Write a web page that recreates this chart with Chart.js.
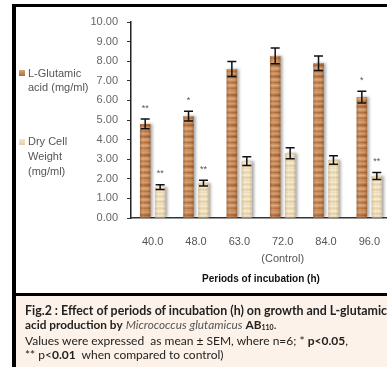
<!DOCTYPE html>
<html><head><meta charset="utf-8">
<script src="https://cdn.jsdelivr.net/npm/chart.js"></script>
<style>
html,body{margin:0;padding:0;background:#fff;width:387px;height:367px;overflow:hidden;}
#wrap{position:relative;width:387px;height:367px;overflow:hidden;}
#c{position:absolute;left:0;top:0;}
.bTop{position:absolute;left:12px;top:4px;width:400px;height:3px;background:#000;}
.bLeft{position:absolute;left:12px;top:4px;width:4px;height:370px;background:#000;}
.bMid{position:absolute;left:12px;top:293px;width:400px;height:3px;background:#000;}
.cap{position:absolute;left:16px;top:296px;width:400px;height:80px;background:#fdf2e9;}
.capText{position:absolute;left:25px;top:304px;font-family:Lato,sans-serif;font-size:11.8px;line-height:14px;color:#222;white-space:nowrap;}
.capText .l1{font-size:12.4px;font-weight:bold;}
.capText .l3{font-size:12px;}
.capText i{color:#555;}
.capText sub{font-size:7px;vertical-align:-1px;}
.leg{position:absolute;left:28px;font-family:'Liberation Sans',Arial,sans-serif;font-size:11px;color:#555;white-space:nowrap;}
.sw{position:absolute;left:19px;width:6px;height:6px;}
</style>
</head><body>
<div id="wrap">
<canvas id="c" width="400" height="294"></canvas>
<div class="bTop"></div><div class="bLeft"></div>
<div class="cap"></div><div class="bMid"></div>
<div class="sw" style="top:70px;background:linear-gradient(#d9a272,#b06c3c);"></div>
<div class="leg" id="leg1" style="top:66px;line-height:14px;"></div>
<div class="sw" style="top:139px;background:linear-gradient(#f4e8cc,#e2cfa2);"></div>
<div class="leg" id="leg2" style="top:134px;line-height:15px;"></div>
<div class="capText">
<span class="l1">Fig.2 : Effect of periods of incubation (h) on growth and L-glutamic</span><br>
<b>acid production by</b> <i>Micrococcus glutamicus</i> <b>AB<sub>110</sub></b>.<br>
<span class="l3">Values were expressed&nbsp; as mean ± SEM, where n=6; * <b>p&lt;0.05</b>,</span><br>
<span class="l3">** p&lt;<b>0.01</b>&nbsp; when compared to control)</span>
</div>
</div>
<script>
const categories = [['40.0'], ['48.0'], ['63.0'], ['72.0', '(Control)'], ['84.0'], ['96.0']];
const gluValues = [4.8, 5.2, 7.6, 8.27, 7.9, 6.17];
const gluErrors = [0.25, 0.25, 0.38, 0.4, 0.37, 0.3];
const dcwValues = [1.58, 1.78, 2.9, 3.3, 2.96, 2.14];
const dcwErrors = [0.12, 0.15, 0.22, 0.28, 0.22, 0.18];
const gluSig = ['**', '*', '', '', '', '*'];
const dcwSig = ['**', '**', '', '', '', '**'];
const gluLegend = ['L-Glutamic', 'acid (mg/ml)'];
const dcwLegend = ['Dry Cell', 'Weight', '(mg/ml)'];
const xTitle = 'Periods of incubation (h)';
const yMin = 0, yMax = 10, yStep = 1;

document.getElementById('leg1').innerHTML = gluLegend.join('<br>');
document.getElementById('leg2').innerHTML = dcwLegend.join('<br>');

const canvas = document.getElementById('c');
const mainCtx = canvas.getContext('2d');
function makePattern(rows) {
  const pc = document.createElement('canvas');
  pc.width = 4; pc.height = rows.length;
  const g = pc.getContext('2d');
  rows.forEach((col, i) => { g.fillStyle = col; g.fillRect(0, i, 4, 1); });
  return mainCtx.createPattern(pc, 'repeat');
}
const brownPat = makePattern(['#c98b5a','#cf9463','#d49b6a','#c68555','#b3703f','#a9653a','#c07d4c','#d09766','#d9a574','#d49d6b','#c4844f','#b77541','#c88b58','#d3996a','#cc9060','#bb7a47','#a86339','#b87644','#cd9262','#d8a373','#d29a69','#c58652','#b06c3c','#c28250','#d09565','#dba878','#d09867','#bf7f4c','#b5733f','#c98d5b']);
const creamPat = makePattern(['#efdfbd','#f3e6c8','#f6ebd2','#eddcb6','#e8d5ab','#efdfbc','#f4e7cb','#f7edd5','#eedeba','#e6d2a7','#ecdab4','#f2e4c5']);

const shadowPlugin = {
  id: 'shadow',
  beforeDatasetsDraw(chart) {
    const ctx = chart.ctx; ctx.save();
    ctx.shadowColor = 'rgba(0,0,0,0.35)'; ctx.shadowOffsetX = 2; ctx.shadowOffsetY = 0; ctx.shadowBlur = 3;
  },
  afterDatasetsDraw(chart) {
    const ctx = chart.ctx; ctx.restore();
    chart.data.datasets.forEach((ds, di) => {
      const meta = chart.getDatasetMeta(di);
      meta.data.forEach(el => {
        const w = el.width, x0 = el.x - w / 2, top = el.y, h = el.base - el.y;
        const gr = ctx.createLinearGradient(x0, 0, x0 + w, 0);
        const a = di === 0 ? 0.35 : 0.18;
        gr.addColorStop(0, 'rgba(90,50,20,' + a + ')');
        gr.addColorStop(0.35, 'rgba(255,240,220,0.08)');
        gr.addColorStop(0.7, 'rgba(90,50,20,0)');
        gr.addColorStop(1, 'rgba(90,50,20,' + a + ')');
        ctx.fillStyle = gr; ctx.fillRect(x0, top, w, h);
      });
    });
    const ys = chart.scales.y;
    const errs = [gluErrors, dcwErrors], sigs = [gluSig, dcwSig];
    chart.data.datasets.forEach((ds, di) => {
      const meta = chart.getDatasetMeta(di);
      meta.data.forEach((el, i) => {
        const v = ds.data[i], e = errs[di][i];
        const yt = ys.getPixelForValue(v + e), yb = ys.getPixelForValue(v - e);
        const x = el.x;
        ctx.save();
        ctx.strokeStyle = '#111'; ctx.lineWidth = 1.5;
        ctx.beginPath();
        ctx.moveTo(x, yt); ctx.lineTo(x, yb);
        ctx.moveTo(x - 4.5, yt); ctx.lineTo(x + 4.5, yt);
        ctx.moveTo(x - 4.5, yb); ctx.lineTo(x + 4.5, yb);
        ctx.stroke();
        if (sigs[di][i]) {
          ctx.fillStyle = '#555'; ctx.font = '9px "Liberation Sans", Arial';
          ctx.textAlign = 'center'; ctx.textBaseline = 'middle';
          ctx.fillText(sigs[di][i], x, yt - 11);
        }
        ctx.restore();
      });
    });
  }
};

new Chart(canvas, {
  type: 'bar',
  data: {
    labels: categories,
    datasets: [
      { label: gluLegend.join(' '), data: gluValues, backgroundColor: brownPat, borderWidth: 0,
        categoryPercentage: 0.69, barPercentage: 0.7 },
      { label: dcwLegend.join(' '), data: dcwValues, backgroundColor: creamPat, borderWidth: 0,
        categoryPercentage: 0.69, barPercentage: 0.7 }
    ]
  },
  options: {
    responsive: false, animation: false,
    layout: { padding: { left: 0, right: 9, top: 22, bottom: 0 } },
    plugins: { legend: { display: false }, tooltip: { enabled: false } },
    scales: {
      y: {
        min: yMin, max: yMax,
        ticks: { stepSize: yStep, callback: v => Number(v).toFixed(2), color: '#666',
          font: { family: '"Liberation Sans", Arial', size: 11 }, padding: 9 },
        grid: { drawOnChartArea: false, drawTicks: true, tickLength: 4, color: '#333', lineWidth: 1 },
        border: { color: '#222', width: 1.5 },
        afterFit(s) { s.width = 131; }
      },
      x: {
        ticks: { color: '#555', font: { family: '"Liberation Sans", Arial', size: 11, lineHeight: 1.5 }, padding: 16,
          maxRotation: 0, autoSkip: false },
        grid: { display: false, drawTicks: false, tickLength: 0 },
        border: { color: '#333', width: 1.5 },
        title: { display: true, text: xTitle, color: '#111',
          font: { family: '"Liberation Sans", Arial', size: 10, weight: 'bold', lineHeight: 1.2 },
          padding: { top: 0, bottom: 9 } },
        afterFit(s) { s.height = 76; }
      }
    }
  },
  plugins: [shadowPlugin]
});
</script>
</body></html>
